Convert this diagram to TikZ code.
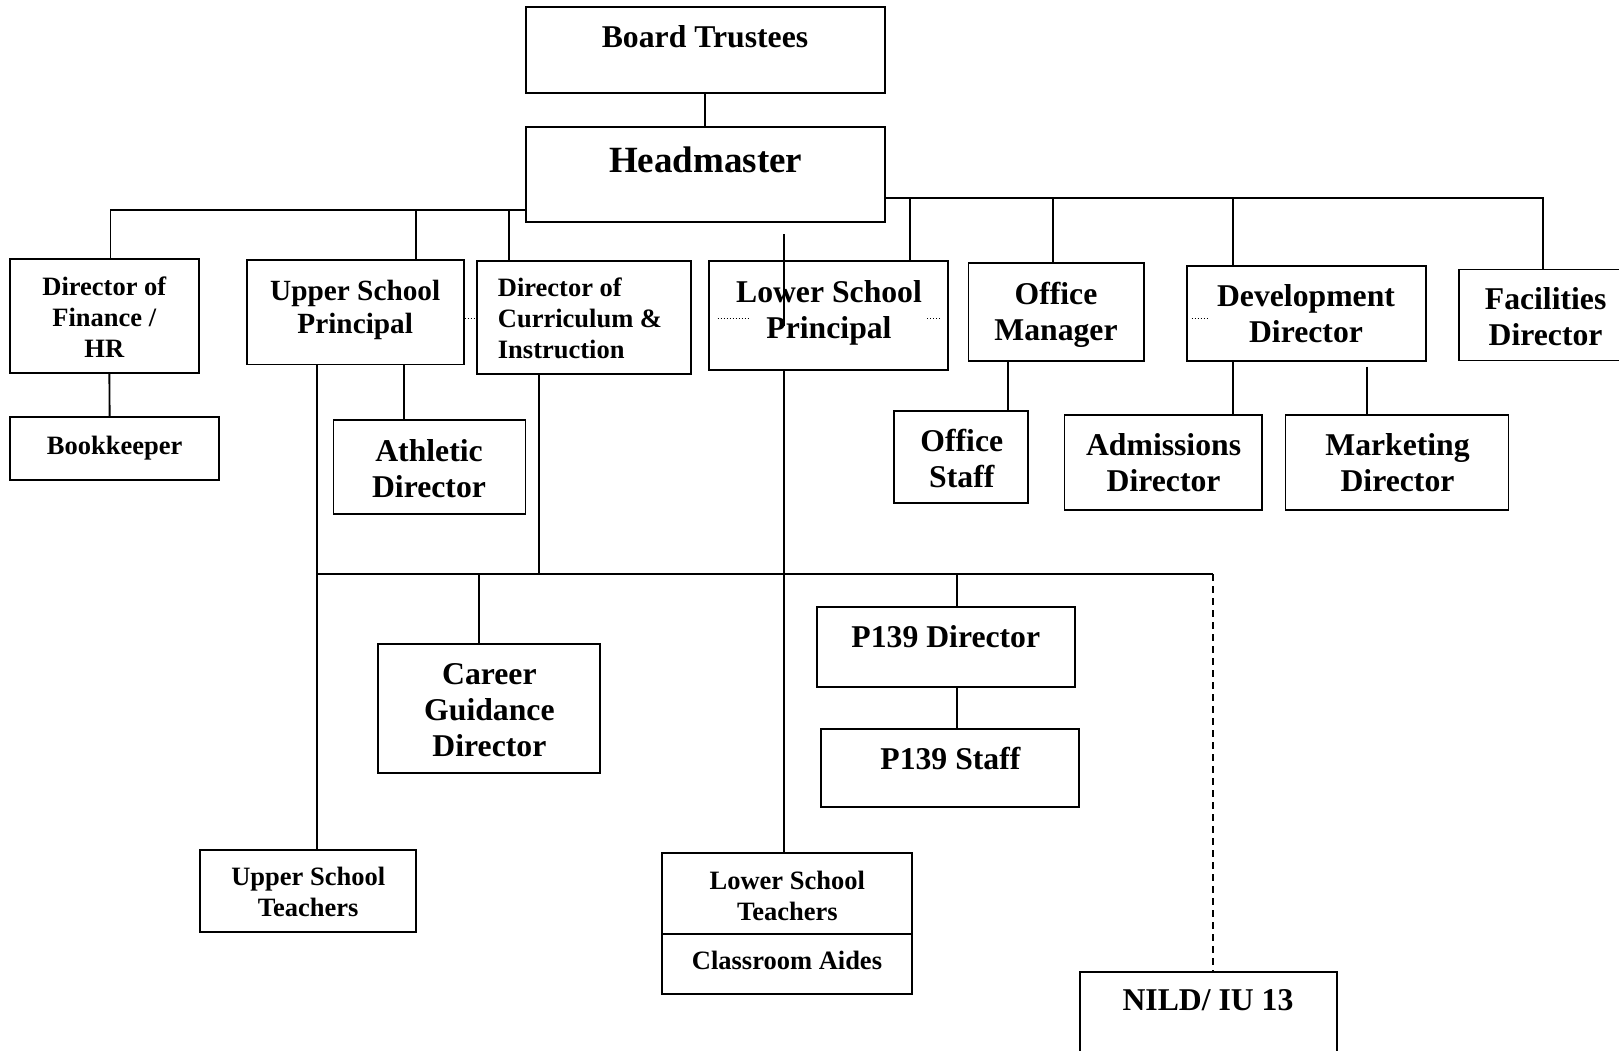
\documentclass[tikz,border=0pt]{standalone}
\usepackage{fontspec}
\setmainfont{Liberation Serif}
\begin{document}
\begin{tikzpicture}[x=1pt,y=-1pt,
  box/.style={draw, line width=1.9pt, rectangle, inner sep=0pt},
  big/.style={font=\fontsize{31.7}{36}\selectfont\bfseries, align=center, inner sep=0pt},
  mid/.style={font=\fontsize{29.3}{33}\selectfont\bfseries, align=center, inner sep=0pt},
  small/.style={font=\fontsize{26.5}{31}\selectfont\bfseries, align=center, inner sep=0pt},
  huge/.style={font=\fontsize{37}{40}\selectfont\bfseries, align=center, inner sep=0pt},
  conn/.style={line width=1.9pt},
  dots/.style={line width=0.9pt, dash pattern=on 1.1pt off 1.9pt}]
\useasboundingbox (0,0) rectangle (1619,1050);
\clip (0,0) rectangle (1619,1050);
\fill[white] (0,0) rectangle (1619,1050);

% boxes
\node[box, minimum width=359.3pt, minimum height=85.7pt] (board) at (705.2,50) {};
\node[box, minimum width=359.3pt, minimum height=95pt] (head) at (705.2,174.5) {};
\node[box, minimum width=189pt, minimum height=113.7pt] (fin) at (104.8,315.9) {};
\node[box, minimum width=208.6pt, minimum height=63pt] (book) at (114.6,448.5) {};
\node[box, minimum width=216.8pt, minimum height=104.5pt] (usp) at (355.2,312.2) {};
\node[box, minimum width=192pt, minimum height=94pt] (ath) at (429.5,467) {};
\node[box, minimum width=213.7pt, minimum height=113pt] (dci) at (583.8,317.5) {};
\node[box, minimum width=239pt, minimum height=108.6pt] (lsp) at (828.5,315.3) {};
\node[box, minimum width=175.5pt, minimum height=98pt] (om) at (1056.2,312) {};
\node[box, minimum width=239pt, minimum height=95pt] (dev) at (1306.5,313.5) {};
\node[box, minimum width=163pt, minimum height=91pt] (fac) at (1540.5,315) {};
\node[box, minimum width=134pt, minimum height=92pt] (ostaff) at (961,457) {};
\node[box, minimum width=197.5pt, minimum height=95pt] (adm) at (1163.2,462.5) {};
\node[box, minimum width=223pt, minimum height=95pt] (mkt) at (1397,462.5) {};
\node[box, minimum width=222pt, minimum height=129pt] (career) at (489,708.5) {};
\node[box, minimum width=258pt, minimum height=79.6pt] (p139d) at (946,646.8) {};
\node[box, minimum width=258pt, minimum height=78pt] (p139s) at (950,768) {};
\node[box, minimum width=216pt, minimum height=82pt] (ust) at (308,891) {};
\node[box, minimum width=250pt, minimum height=81pt] (lst) at (787,893.5) {};
\node[box, minimum width=250pt, minimum height=60pt] (aides) at (787,964) {};
\node[box, minimum width=257pt, minimum height=88.4pt] (nild) at (1208.5,1015.8) {};

% texts
\node[big] (tboard) at (705,37) {Board Trustees};
\node[huge] (thead) at (705.7,160) {Headmaster};
\node[small] (tfin) at (104.3,317) {Director of\\Finance /\\HR};
\node[small] (tbook) at (114.6,448) {Bookkeeper};
\node[mid] (tusp) at (355.2,309.5) {Upper School\\Principal};
\node[big] (tath) at (429,468.5) {Athletic\\Director};
\node[small, align=left, anchor=west] (tdci) at (497.7,318) {Director of\\Curriculum \&\\Instruction};
\node[big] (tlsp) at (829,312.5) {Lower School\\Principal};
\node[big] (tom) at (1056,314.5) {Office\\Manager};
\node[big] (tdev) at (1306,313.5) {Development\\Director};
\node[big] (tfac) at (1545.6,316.5) {Facilities\\Director};
\node[big] (tostaff) at (961.8,458.5) {Office\\Staff};
\node[big] (tadm) at (1163.6,463) {Admissions\\Director};
\node[big] (tmkt) at (1397.5,463) {Marketing\\Director};
\node[big] (tcareer) at (489.4,710) {Career\\Guidance\\Director};
\node[big] (tp139d) at (945.8,637) {P139 Director};
\node[big] (tp139s) at (950.4,758) {P139 Staff};
\node[small] (tust) at (308.2,892) {Upper School\\Teachers};
\node[small] (tlst) at (787.3,895.5) {Lower School\\Teachers};
\node[small] (taides) at (787,960) {Classroom Aides};
\node[big] (tnild) at (1208,1000.5) {NILD/ IU 13};

% junction coordinates
\coordinate (jfin) at (110.5,209.6);
\coordinate (jusp) at (416,209.6);
\coordinate (jdci) at (509,209.6);
\coordinate (jlsp) at (909.6,198.3);
\coordinate (jom) at (1053,198.3);
\coordinate (jdev) at (1233,198.3);
\coordinate (jfac) at (1542.6,198.3);
\coordinate (hl1) at (783.7,234);
\coordinate (hl2) at (783.7,326);
\coordinate (jusb) at (317,574);
\coordinate (xath) at (403.7,0);
\coordinate (jdcb) at (539,574);
\coordinate (jcar) at (479,574);
\coordinate (jp) at (957,574);
\coordinate (jnild) at (1213,574);
\coordinate (xos) at (1008,0);
\coordinate (xmk) at (1367,0);
\coordinate (mk1) at (1367,366.5);

% connectors
\draw[conn] (board.south) -- (head.north);
\draw[conn] (head.west |- jfin) -- (jfin) -- (jfin |- fin.north);
\draw[conn] (jusp) -- (jusp |- usp.north);
\draw[conn] (jdci) -- (jdci |- dci.north);
\draw[conn] (head.east |- jfac) -- (jfac) -- (jfac |- fac.north);
\draw[conn] (jlsp) -- (jlsp |- lsp.north);
\draw[conn] (jom) -- (jom |- om.north);
\draw[conn] (jdev) -- (jdev |- dev.north);
\draw[conn] (hl1) -- (hl2);
\draw[conn] (lsp.south -| hl1) -- (lst.north -| hl1);
\draw[conn] ([xshift=4.6pt]fin.south) -- ([xshift=-5pt]book.north);
\draw[conn] (jusb |- usp.south) -- (jusb |- ust.north);
\draw[conn] (usp.south -| xath) -- (ath.north -| xath);
\draw[conn] (jdcb |- dci.south) -- (jdcb);
\draw[conn] (jusb) -- (jnild);
\draw[conn] (jcar) -- (jcar |- career.north);
\draw[conn] (jp) -- (jp |- p139d.north);
\draw[conn] (p139d.south -| jp) -- (p139s.north -| jp);
\draw[line width=1.9pt, dash pattern=on 7pt off 5pt] (jnild) -- (jnild |- nild.north);
\draw[conn] (om.south -| xos) -- (ostaff.north -| xos);
\draw[conn] (dev.south -| jdev) -- (adm.north -| jdev);
\draw[conn] (mk1) -- (mkt.north -| xmk);

% dotted marks
\draw[dots] (usp.east |- 0,318) -- (dci.west |- 0,318);
\draw[dots] (717.6,318) -- (748.6,318);
\draw[dots] (927,318) -- (941.6,318);
\draw[dots] (1191.5,318) -- (1208,318);
\end{tikzpicture}
\end{document}
